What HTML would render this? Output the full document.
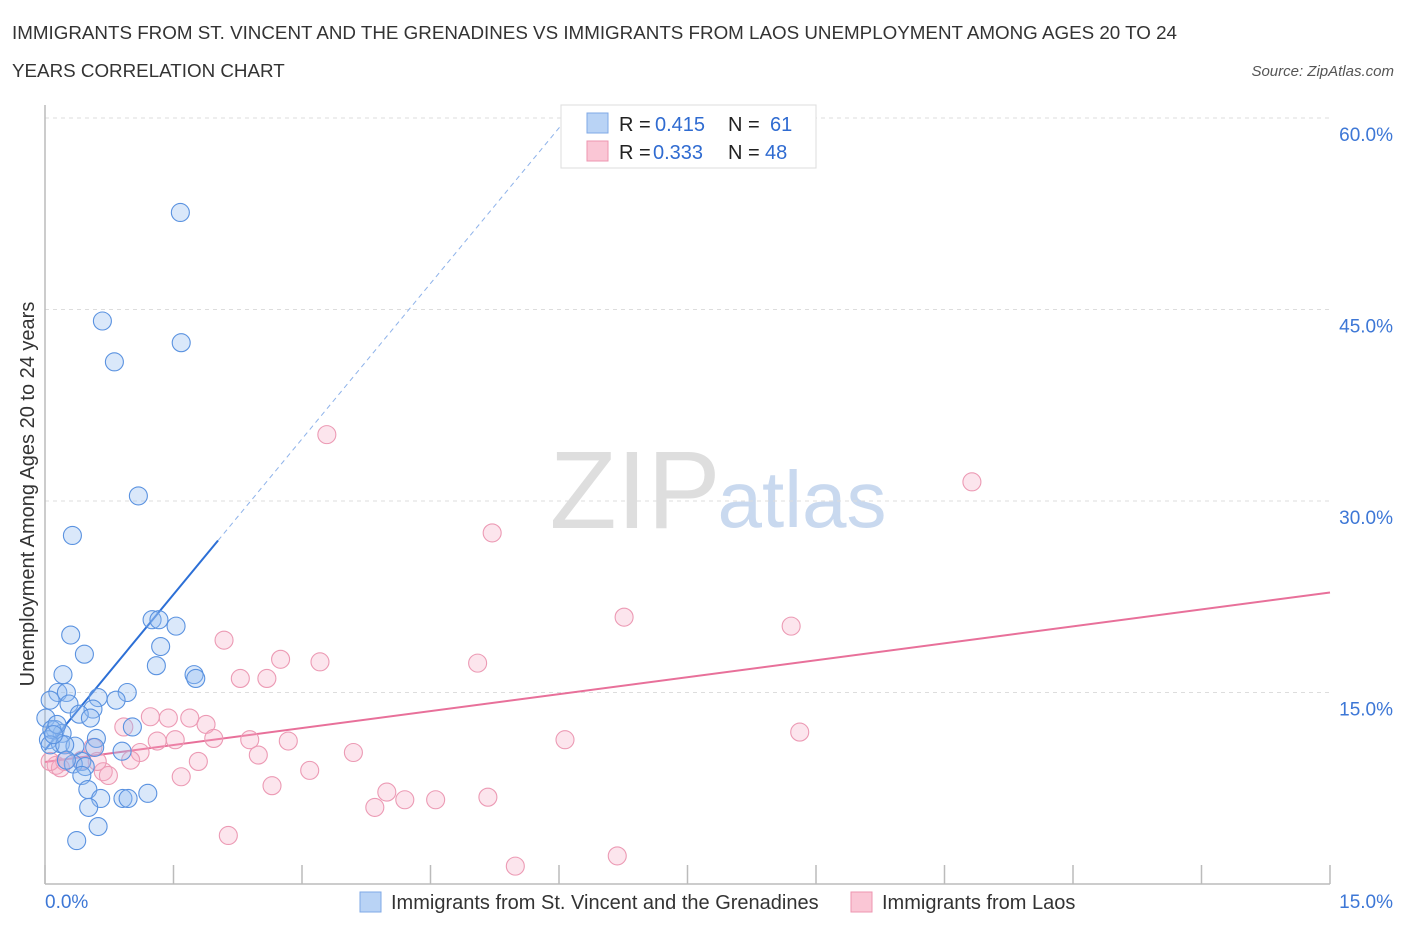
<!DOCTYPE html>
<html><head><meta charset="utf-8"><style>
body{margin:0;background:#fff;font-family:"Liberation Sans",sans-serif;}
svg text{font-family:"Liberation Sans",sans-serif;}
</style></head><body>
<svg id="chart" width="1406" height="930" viewBox="0 0 1406 930" xmlns="http://www.w3.org/2000/svg">
<text x="12" y="39" font-size="18.8" fill="#333">IMMIGRANTS FROM ST. VINCENT AND THE GRENADINES VS IMMIGRANTS FROM LAOS UNEMPLOYMENT AMONG AGES 20 TO 24</text>
<text x="12" y="77" font-size="18.8" fill="#333">YEARS CORRELATION CHART</text>
<text x="1394" y="76" font-size="15" font-style="italic" fill="#555" text-anchor="end">Source: ZipAtlas.com</text>
<text x="34" y="494" font-size="20" fill="#333" text-anchor="middle" transform="rotate(-90 34 494)">Unemployment Among Ages 20 to 24 years</text>
<g>
<text x="635" y="528" font-size="110" font-family="Liberation Serif" fill="#dedede" text-anchor="middle">ZIP</text>
<text x="802" y="527" font-size="80" fill="#c9d9ef" text-anchor="middle">atlas</text>
</g>
<g id="grid"></g>
<g id="axes"></g>
<g id="trends"></g>
<g id="points"></g>
<g>
<rect x="561" y="105" width="255" height="63" fill="#fff" stroke="#ddd"/>
<rect x="587" y="113" width="21" height="20" fill="#b9d3f5" stroke="#7fa8e6"/>
<rect x="587" y="141" width="21" height="20" fill="#fac6d5" stroke="#ee95b0"/>
<text x="619" y="131" font-size="20" fill="#222">R =</text>
<text x="655" y="131" font-size="20" fill="#2f6bd1">0.415</text>
<text x="728" y="131" font-size="20" fill="#222">N =</text>
<text x="770" y="131" font-size="20" fill="#2f6bd1">61</text>
<text x="619" y="159" font-size="20" fill="#222">R =</text>
<text x="653" y="159" font-size="20" fill="#2f6bd1">0.333</text>
<text x="728" y="159" font-size="20" fill="#222">N =</text>
<text x="765" y="159" font-size="20" fill="#2f6bd1">48</text>
</g>
<g>
<rect x="360" y="892" width="21" height="20" fill="#b9d3f5" stroke="#7fa8e6"/>
<text x="391" y="909" font-size="20" fill="#333">Immigrants from St. Vincent and the Grenadines</text>
<rect x="851" y="892" width="21" height="20" fill="#fac6d5" stroke="#ee95b0"/>
<text x="882" y="909" font-size="20" fill="#333">Immigrants from Laos</text>
</g>
</svg>
<script>
const blueX=[1.58,0.67,1.59,0.81,1.09,0.32,1.25,1.33,1.53,0.30,1.35,0.46,1.30,1.74,1.76,0.21,0.15,0.25,0.62,0.96,0.83,0.28,0.56,0.40,0.53,0.06,0.01,0.12,0.20,0.04,0.60,1.02,0.18,0.35,0.58,0.90,0.43,0.33,0.47,0.43,0.50,1.20,0.65,0.91,0.97,0.51,0.62,0.37,0.08,0.06,0.14,0.23,0.10,0.25];
const blueY=[52.6,44.1,42.4,40.9,30.4,27.3,20.7,20.7,20.2,19.5,18.6,18.0,17.1,16.4,16.1,16.4,15.0,15.0,14.6,15.0,14.4,14.1,13.7,13.3,13.0,14.4,13.0,12.1,11.8,11.3,11.4,12.3,11.0,10.8,10.7,10.4,9.6,9.4,9.2,8.5,7.4,7.1,6.7,6.7,6.7,6.0,4.5,3.4,12.1,10.9,12.5,10.9,11.7,9.7];
const pinkX=[3.29,10.82,5.22,6.76,8.71,2.09,2.75,3.21,5.05,2.28,2.59,1.23,1.44,1.69,1.88,0.92,1.52,1.97,2.39,2.84,1.31,8.81,6.07,3.60,0.56,1.11,2.49,1.79,1.00,0.13,0.23,0.43,0.68,0.74,3.09,1.59,2.65,3.99,3.85,4.20,4.56,5.17,2.14,5.49,6.68,0.18,0.61,0.06];
const pinkY=[35.2,31.5,27.5,20.9,20.2,19.1,17.6,17.4,17.3,16.1,16.1,13.1,13.0,13.0,12.5,12.3,11.3,11.4,11.3,11.2,11.2,11.9,11.3,10.3,10.7,10.3,10.1,9.6,9.7,9.3,9.6,9.7,8.8,8.5,8.9,8.4,7.7,7.2,6.0,6.6,6.6,6.8,3.8,1.4,2.2,9.1,9.6,9.6];
const yTicks=[15,30,45,60];
const yTickLabels=["15.0%","30.0%","45.0%","60.0%"];
const xTicks=[0,1.5,3,4.5,6,7.5,9,10.5,12,13.5,15];
const blueTrend=[10.5,8.12];
const pinkTrend=[9.56,0.885];

const NS="http://www.w3.org/2000/svg";
const X0=45,X1=1330,Y0=884,Y60=118;
const sx=v=>X0+v*(X1-X0)/15;
const sy=v=>Y0-v*(Y0-Y60)/60;
function mk(tag,attrs,parent){const e=document.createElementNS(NS,tag);for(const k in attrs)e.setAttribute(k,attrs[k]);document.getElementById(parent).appendChild(e);return e;}

yTicks.forEach((t,i)=>{
  const l=mk('line',{x1:X0,x2:1330,y1:sy(t),y2:sy(t),stroke:'#ddd','stroke-dasharray':'4,4'},'grid');
  
  
  const tx=mk('text',{x:1393,y:sy(t)+23,'font-size':19,fill:'#3d77d6','text-anchor':'end'},'grid');
  tx.textContent=yTickLabels[i];
  
  
});
const ax=mk('line',{x1:X0,x2:X1,y1:Y0,y2:Y0,stroke:'#bbb','stroke-width':1.5},'axes');


const ay=mk('line',{x1:X0,x2:X0,y1:105,y2:Y0,stroke:'#bbb','stroke-width':1.5},'axes');


xTicks.forEach(t=>{
  const l=mk('line',{x1:sx(t),x2:sx(t),y1:Y0,y2:Y0-19,stroke:'#bbb','stroke-width':1.5},'axes');
  
  
});
const xl0=mk('text',{x:45,y:908,'font-size':19,fill:'#3d77d6'},'axes');xl0.textContent='0.0%';


const xl1=mk('text',{x:1393,y:908,'font-size':19,fill:'#3d77d6','text-anchor':'end'},'axes');xl1.textContent='15.0%';



for(let i=0;i<pinkX.length;i++){
  const c=mk('circle',{cx:sx(pinkX[i]),cy:sy(pinkY[i]),r:9,fill:'rgba(245,170,195,0.3)',stroke:'#ec9ab4','stroke-width':1.1},'points');
  
  
}
for(let i=0;i<blueX.length;i++){
  const c=mk('circle',{cx:sx(blueX[i]),cy:sy(blueY[i]),r:9,fill:'rgba(150,190,240,0.35)',stroke:'#5a92e0','stroke-width':1.1},'points');
  
  
}
const bf=x=>blueTrend[0]+blueTrend[1]*x;
const pf=x=>pinkTrend[0]+pinkTrend[1]*x;
const b1=mk('line',{x1:sx(0),y1:sy(bf(0)),x2:sx(2.02),y2:sy(bf(2.02)),stroke:'#2c6fd6','stroke-width':2},'trends');


const b2=mk('line',{x1:sx(2.02),y1:sy(bf(2.02)),x2:sx(6.07),y2:sy(bf(6.07)),stroke:'#8fb3ea','stroke-width':1,'stroke-dasharray':'5,4'},'trends');


const p1=mk('line',{x1:sx(0),y1:sy(pf(0)),x2:sx(15),y2:sy(pf(15)),stroke:'#e8709a','stroke-width':2},'trends');


</script>
</body></html>
